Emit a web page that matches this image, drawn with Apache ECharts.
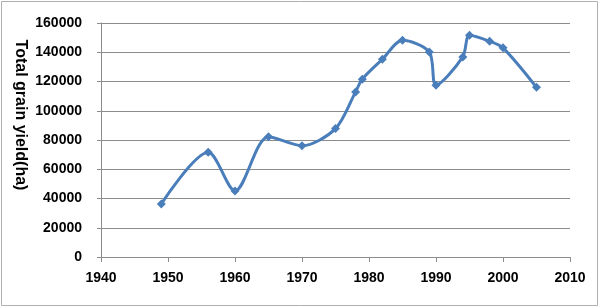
<!DOCTYPE html>
<html>
<head>
<meta charset="utf-8">
<script src="https://cdn.jsdelivr.net/npm/echarts@6/dist/echarts.min.js"></script>
<style>html,body{margin:0;padding:0;background:#fff}#c{width:600px;height:308px}</style>
</head>
<body>
<div id="c"></div>
<script>
var years = [1949, 1956, 1960, 1965, 1970, 1975, 1978, 1979, 1982, 1985, 1989, 1990, 1994, 1995, 1998, 2000, 2005];
var yields = [36300, 71600, 45200, 82300, 76100, 87800, 112900, 121600, 135200, 148200, 140200, 117500, 136800, 151600, 147500, 143000, 116000];
var yAxisTitle = 'Total grain yield(ha)';

var chart = echarts.init(document.getElementById('c'), null, {renderer: 'canvas'});
var pts = years.map(function (y, i) { return [y, yields[i]]; });
var labelFont = {color: '#000', fontWeight: 'bold', fontSize: 14, fontFamily: 'Liberation Sans'};
var plain = function (v) { return String(v); };
chart.setOption({
  animation: false,
  backgroundColor: '#fff',
  grid: {left: 101, right: 30, top: 23, bottom: 51},
  graphic: [
    {type: 'rect', shape: {x: 1.5, y: 1.5, width: 596, height: 304}, style: {fill: 'none', stroke: '#b0b0b0', lineWidth: 1}, silent: true},
    {type: 'text', x: 20, y: 115, rotation: -Math.PI / 2, style: {text: yAxisTitle, fill: '#000', font: 'bold 16px "Liberation Sans"', align: 'center', verticalAlign: 'middle'}}
  ],
  xAxis: {
    type: 'value', min: 1940, max: 2010, interval: 10,
    axisLine: {show: true, lineStyle: {color: '#8c8c8c'}},
    axisTick: {show: true, length: 5, lineStyle: {color: '#8c8c8c'}},
    splitLine: {show: false},
    axisLabel: Object.assign({margin: 14, formatter: plain}, labelFont)
  },
  yAxis: {
    type: 'value', min: 0, max: 160000, interval: 20000,
    axisLine: {show: true, lineStyle: {color: '#8c8c8c'}},
    axisTick: {show: true, length: 4, lineStyle: {color: '#8c8c8c'}},
    splitLine: {show: true, lineStyle: {color: '#8c8c8c'}},
    axisLabel: Object.assign({margin: 19, formatter: plain}, labelFont)
  },
  series: [{
    type: 'line', data: pts, smooth: 0.3,
    symbol: 'diamond', symbolSize: 9,
    lineStyle: {color: '#4a7ebb', width: 3},
    itemStyle: {color: '#4a7ebb'}
  }]
});
</script>
</body>
</html>
